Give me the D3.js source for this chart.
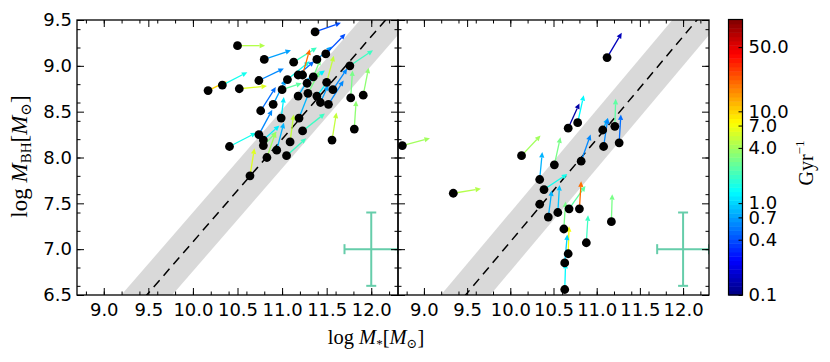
<!DOCTYPE html>
<html lang="en">
<head>
  <meta charset="UTF-8" />
  <title>MBH vs M* growth vectors</title>
  <style>
    body { margin: 0; background: #fff; }
    svg text { font-family: "DejaVu Sans", sans-serif; }
    .serif { font-family: "Liberation Serif", "DejaVu Serif", serif; }
  </style>
</head>
<body>
  <svg id="chart" width="830" height="362"></svg>
  <script src="https://cdnjs.cloudflare.com/ajax/libs/d3/7.8.4/d3.min.js"></script>
  <script>
    // axis ticks
    const xTicks = [9.0, 9.5, 10.0, 10.5, 11.0, 11.5, 12.0];
    const xMinor = [8.8, 9.0, 9.2, 9.4, 9.6, 9.8, 10.0, 10.2, 10.4, 10.6, 10.8, 11.0, 11.2, 11.4, 11.6, 11.8, 12.0, 12.2];
    const yTicks = [6.5, 7.0, 7.5, 8.0, 8.5, 9.0, 9.5];
    const yMinor = [6.6, 6.8, 7.0, 7.2, 7.4, 7.6, 7.8, 8.0, 8.2, 8.4, 8.6, 8.8, 9.0, 9.2, 9.4];
    const cbTicks = [0.1, 0.4, 0.7, 1.0, 4.0, 7.0, 10.0, 50.0];

    // left panel: galaxies, log M*, log MBH, growth vector (dx, dy) and rate in Gyr^-1
    const leftX  = [11.37, 10.50, 10.80, 11.13, 11.39, 11.49, 11.76, 10.74, 10.33, 10.17, 10.52, 11.06, 11.18, 11.23,
                    11.35, 11.28, 11.50, 11.00, 11.57, 11.18, 11.29, 11.39, 11.43, 11.52, 11.77, 11.91, 10.76, 10.90,
                    10.99, 11.19, 11.23, 11.81, 10.74, 10.79, 10.79, 10.41, 11.09, 11.56, 10.94, 10.83, 11.05, 10.64];
    const leftY  = [9.37, 9.22, 9.07, 9.04, 9.07, 9.13, 9.00, 8.84, 8.79, 8.73, 8.75, 8.85, 8.90, 8.90,
                    8.88, 8.81, 8.82, 8.74, 8.74, 8.67, 8.70, 8.67, 8.60, 8.58, 8.65, 8.68, 8.51, 8.58,
                    8.43, 8.43, 8.29, 8.31, 8.25, 8.19, 8.13, 8.12, 8.17, 8.19, 8.08, 8.00, 8.02, 7.80];
    const leftDX = [0.29, 0.31, 0.30, 0.26, 0.17, 0.22, 0.26, 0.28, 0.28, 0.21, 0.31, 0.25, 0.18, 0.08,
                    0.08, 0.20, 0.08, 0.22, 0.16, 0.13, 0.13, 0.13, 0.09, 0.17, 0.02, 0.06, 0.17, 0.14,
                    0.03, 0.12, 0.25, 0.02, 0.15, 0.18, 0.15, 0.30, 0.04, 0.05, 0.08, 0.10, 0.22, 0.05];
    const leftDY = [0.10, 0.00, 0.10, 0.16, 0.14, 0.22, 0.17, 0.13, 0.14, 0.10, 0.03, 0.20, 0.15, 0.28,
                    0.19, 0.14, 0.29, 0.07, 0.23, 0.21, 0.24, 0.17, 0.19, 0.26, 0.30, 0.30, 0.26, 0.27,
                    0.23, 0.30, 0.19, 0.31, 0.27, 0.16, 0.15, 0.15, 0.30, 0.30, 0.30, 0.28, 0.19, 0.30];
    const leftRate = [0.4, 4.5, 0.7, 2.0, 0.7, 0.4, 2.0, 0.6, 1.5, 10.0, 6.0, 1.5, 0.5, 20.0,
                      3.0, 1.2, 5.0, 2.5, 0.6, 0.8, 3.0, 1.3, 0.7, 0.6, 3.0, 3.5, 0.5, 0.7,
                      1.2, 0.8, 2.0, 3.5, 0.6, 1.2, 3.0, 1.5, 5.0, 5.0, 0.8, 4.0, 2.0, 6.0];

    // right panel
    const rightX  = [11.12, 8.75, 9.34, 10.13, 10.67, 10.78, 11.07, 11.21, 11.08, 11.26, 10.51, 10.82, 10.34,
                     10.39, 10.34, 10.44, 10.55, 10.68, 10.80, 11.17, 10.62, 10.88, 10.67, 10.63, 10.63];
    const rightY  = [9.09, 8.13, 7.61, 8.02, 8.32, 8.38, 8.30, 8.34, 8.12, 8.16, 7.92, 7.96, 7.76,
                     7.65, 7.49, 7.35, 7.40, 7.44, 7.44, 7.30, 7.22, 7.07, 6.95, 6.85, 6.56];
    const rightDX = [0.17, 0.32, 0.32, 0.22, 0.13, 0.07, 0.06, 0.01, 0.05, 0.02, 0.07, 0.11, 0.03,
                     0.27, 0.00, 0.04, 0.02, 0.19, 0.02, 0.01, 0.02, 0.02, 0.01, 0.03, 0.01];
    const rightDY = [0.27, 0.08, 0.05, 0.22, 0.27, 0.30, 0.13, 0.30, 0.31, 0.31, 0.30, 0.29, 0.30,
                     0.17, 0.00, 0.29, 0.30, 0.25, 0.30, 0.30, 0.30, 0.30, 0.30, 0.31, 0.29];
    const rightRate = [0.15, 4.0, 4.5, 4.0, 0.13, 1.3, 0.8, 2.5, 0.6, 0.5, 3.0, 0.6, 0.8,
                       1.5, 1.0, 0.8, 0.9, 2.5, 20.0, 3.0, 3.0, 2.0, 7.0, 1.0, 1.3];

    // Haring & Rix relation and its scatter
    const relSlope = 1.12, relZero = 8.20, relPivot = 11.0, relScatter = 0.32;
    // typical error bar
    const errX = 12.0, errY = 7.0, errXSize = 0.3, errYSize = 0.4;

    const svg = d3.select("#chart");
    const plotTop = 20, plotBottom = 295;
    const y = d3.scaleLinear().domain([6.5, 9.5]).range([plotBottom, plotTop]);

    function jet(t) {
      const c = v => Math.round(255 * Math.max(0, Math.min(1, v)));
      return `rgb(${c(1.5 - Math.abs(4 * t - 3))},${c(1.5 - Math.abs(4 * t - 2))},${c(1.5 - Math.abs(4 * t - 1))})`;
    }
    const cScale = d3.scaleLog().domain([0.1, 100]).range([0, 1]);

    function panel(id, x0, x1, xs, ys, dxs, dys, rates, showY) {
      const x = d3.scaleLinear().domain([8.7, 12.3]).range([x0, x1]);
      const g = svg.append("g");
      g.append("clipPath").attr("id", id).append("rect")
        .attr("x", x0).attr("y", plotTop).attr("width", x1 - x0).attr("height", plotBottom - plotTop);
      const inner = g.append("g").attr("clip-path", `url(#${id})`);

      // scatter band and relation
      const rel = v => relZero + relSlope * (v - relPivot);
      const band = [[8.7, rel(8.7) + relScatter], [12.3, rel(12.3) + relScatter],
                    [12.3, rel(12.3) - relScatter], [8.7, rel(8.7) - relScatter]];
      inner.append("path")
        .attr("d", d3.line().x(d => x(d[0])).y(d => y(d[1]))(band) + "Z")
        .attr("fill", "#d9d9d9");
      inner.append("line")
        .attr("x1", x(8.7)).attr("y1", y(rel(8.7)))
        .attr("x2", x(12.3)).attr("y2", y(rel(12.3)))
        .attr("stroke", "#000").attr("stroke-width", 1.5).attr("stroke-dasharray", "9,6")
        .attr("stroke-dashoffset", 3);

      // growth vectors
      xs.forEach((v, i) => {
        if (dxs[i] === 0 && dys[i] === 0) return;
        const px1 = x(v), py1 = y(ys[i]);
        const px2 = x(v + dxs[i]), py2 = y(ys[i] + dys[i]);
        const len = Math.hypot(px2 - px1, py2 - py1);
        const ux = (px2 - px1) / len, uy = (py2 - py1) / len;
        const hl = 5.5, hw = 2.6;
        const bx = px2 - ux * hl, by = py2 - uy * hl;
        const col = jet(cScale(rates[i]));
        inner.append("line")
          .attr("x1", px1).attr("y1", py1).attr("x2", bx).attr("y2", by)
          .attr("stroke", col).attr("stroke-width", 1.3);
        inner.append("path")
          .attr("d", `M${px2},${py2}L${bx - uy * hw},${by + ux * hw}L${bx + uy * hw},${by - ux * hw}Z`)
          .attr("fill", col);
      });

      inner.selectAll("circle.pt").data(xs).enter().append("circle")
        .attr("class", "pt")
        .attr("cx", d => x(d)).attr("cy", (d, i) => y(ys[i])).attr("r", 4.4)
        .attr("fill", "#000");

      // error bar
      const ec = "#66cdaa";
      const eb = inner.append("g").attr("stroke", ec).attr("stroke-width", 2);
      eb.append("line").attr("x1", x(errX - errXSize)).attr("x2", x(errX + errXSize))
        .attr("y1", y(errY)).attr("y2", y(errY));
      eb.append("line").attr("x1", x(errX)).attr("x2", x(errX))
        .attr("y1", y(errY - errYSize)).attr("y2", y(errY + errYSize));
      [errX - errXSize, errX + errXSize].forEach(v => eb.append("line")
        .attr("x1", x(v)).attr("x2", x(v)).attr("y1", y(errY) - 5).attr("y2", y(errY) + 5));
      [errY - errYSize, errY + errYSize].forEach(v => eb.append("line")
        .attr("x1", x(errX) - 5).attr("x2", x(errX) + 5).attr("y1", y(v)).attr("y2", y(v)));

      // axes, ticks pointing inward on all four sides
      const fmt = d3.format(".1f");
      const add = (axis, tx, ty) => {
        const a = g.append("g").attr("transform", `translate(${tx},${ty})`).call(axis);
        a.select(".domain").remove();
        a.selectAll("line").attr("stroke", "#000").attr("stroke-width", 1);
        a.selectAll("text").attr("font-size", 18).attr("font-family", "DejaVu Sans").attr("fill", "#000");
        return a;
      };
      add(d3.axisBottom(x).tickValues(xMinor).tickSize(-3.5).tickFormat(""), 0, plotBottom);
      add(d3.axisTop(x).tickValues(xMinor).tickSize(-3.5).tickFormat(""), 0, plotTop);
      add(d3.axisBottom(x).tickValues(xTicks).tickSize(-7).tickPadding(8).tickFormat(fmt), 0, plotBottom);
      add(d3.axisTop(x).tickValues(xTicks).tickSize(-7).tickFormat(""), 0, plotTop);
      add(d3.axisLeft(y).tickValues(yMinor).tickSize(-3.5).tickFormat(""), x0, 0);
      add(d3.axisRight(y).tickValues(yMinor).tickSize(-3.5).tickFormat(""), x1, 0);
      add(d3.axisLeft(y).tickValues(yTicks).tickSize(-7).tickPadding(5).tickFormat(showY ? fmt : ""), x0, 0);
      add(d3.axisRight(y).tickValues(yTicks).tickSize(-7).tickFormat(""), x1, 0);

      g.append("rect").attr("x", x0).attr("y", plotTop).attr("width", x1 - x0).attr("height", plotBottom - plotTop)
        .attr("fill", "none").attr("stroke", "#000").attr("stroke-width", 1.3);
    }

    panel("clipL", 77, 398, leftX, leftY, leftDX, leftDY, leftRate, true);
    panel("clipR", 398, 709, rightX, rightY, rightDX, rightDY, rightRate, false);

    // colorbar
    const cbX = 728.5, cbW = 14;
    const cbY = d3.scaleLog().domain([0.1, 100]).range([295, 19.5]);
    const nBands = 64;
    const cb = svg.append("g");
    d3.range(nBands).forEach(i => {
      const lo = Math.pow(10, -1 + 3 * i / nBands), hi = Math.pow(10, -1 + 3 * (i + 1) / nBands);
      cb.append("rect").attr("x", cbX).attr("width", cbW)
        .attr("y", cbY(hi)).attr("height", cbY(lo) - cbY(hi) + 0.5)
        .attr("fill", jet((i + 0.5) / nBands));
    });
    cb.append("rect").attr("x", cbX).attr("y", cbY(100)).attr("width", cbW).attr("height", cbY(0.1) - cbY(100))
      .attr("fill", "none").attr("stroke", "#000").attr("stroke-width", 1.2);
    const cbAxis = cb.append("g").attr("transform", `translate(${cbX + cbW},0)`)
      .call(d3.axisRight(cbY).tickValues(cbTicks).tickSize(-4).tickPadding(6).tickFormat(d3.format(".1f")));
    cbAxis.select(".domain").remove();
    cbAxis.selectAll("line").attr("stroke", "#000");
    cbAxis.selectAll("text").attr("font-size", 18).attr("font-family", "DejaVu Sans").attr("fill", "#000");

    // axis titles
    const yl = svg.append("text").attr("class", "serif")
      .attr("transform", "translate(27,156.5) rotate(-90)")
      .attr("text-anchor", "middle").attr("font-size", 23);
    yl.append("tspan").text("log ");
    yl.append("tspan").attr("font-style", "italic").text("M");
    yl.append("tspan").attr("font-size", 15).attr("dy", 4).text("BH");
    yl.append("tspan").attr("dy", -4).text("[");
    yl.append("tspan").attr("font-style", "italic").text("M");
    yl.append("tspan").attr("font-size", 15).attr("dy", 4).text("\u2299");
    yl.append("tspan").attr("dy", -4).text("]");

    const xl = svg.append("text").attr("class", "serif")
      .attr("x", 376).attr("y", 344).attr("text-anchor", "middle").attr("font-size", 20.5);
    xl.append("tspan").text("log ");
    xl.append("tspan").attr("font-style", "italic").text("M");
    xl.append("tspan").attr("font-size", 13).attr("dy", 4).text("*");
    xl.append("tspan").attr("dy", -4).text("[");
    xl.append("tspan").attr("font-style", "italic").text("M");
    xl.append("tspan").attr("font-size", 13).attr("dy", 4).text("\u2299");
    xl.append("tspan").attr("dy", -4).text("]");

    const cl = svg.append("text").attr("class", "serif")
      .attr("transform", "translate(813,163) rotate(-90)")
      .attr("text-anchor", "middle").attr("font-size", 20);
    cl.append("tspan").text("Gyr");
    cl.append("tspan").attr("font-size", 13).attr("dy", -9).text("\u22121");
  </script>
</body>
</html>
